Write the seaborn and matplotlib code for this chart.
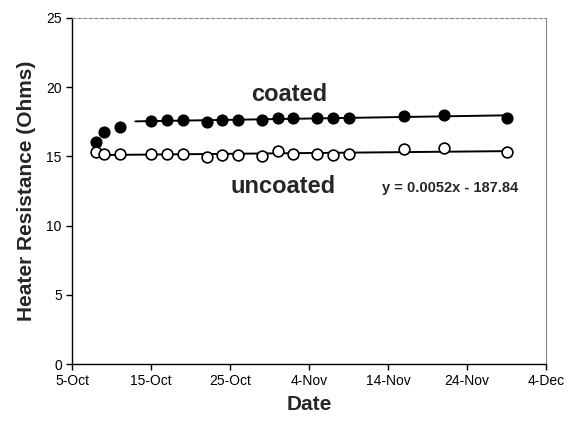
import matplotlib
matplotlib.use("Agg")
import matplotlib.pyplot as plt
import matplotlib.dates as mdates
import numpy as np
import pandas as pd
import seaborn as sns

# ---- data ----
dates = ["2006-10-08", "2006-10-09", "2006-10-11", "2006-10-15", "2006-10-17",
         "2006-10-19", "2006-10-22", "2006-10-24", "2006-10-26", "2006-10-29",
         "2006-10-31", "2006-11-02", "2006-11-05", "2006-11-07", "2006-11-09",
         "2006-11-16", "2006-11-21", "2006-11-29"]
coated = [16.0, 16.75, 17.15, 17.55, 17.6, 17.6, 17.45, 17.6, 17.6, 17.6,
          17.8, 17.8, 17.8, 17.75, 17.75, 17.9, 18.0, 17.8]
uncoated = [15.3, 15.15, 15.15, 15.15, 15.15, 15.15, 14.95, 15.1, 15.1, 15.05,
            15.35, 15.2, 15.2, 15.1, 15.15, 15.5, 15.6, 15.3]
coated_fit_start = 3          # trendline of coated series from 4th point on
y_ticks = [0, 5, 10, 15, 20, 25]
x_tick_dates = ["2006-10-05", "2006-10-15", "2006-10-25", "2006-11-04",
                "2006-11-14", "2006-11-24", "2006-12-04"]
equation = "y = 0.0052x - 187.84"

df = pd.DataFrame({"date": pd.to_datetime(dates), "coated": coated, "uncoated": uncoated})
df["num"] = mdates.date2num(df["date"])

sns.set_style("white")
plt.rcParams["font.family"] = ["Liberation Sans", "DejaVu Sans"]

fig = plt.figure(figsize=(5.69, 4.25), dpi=100)
ax = fig.add_axes([0.127, 0.1435, 0.833, 0.8145])

# trendlines
sub = df.iloc[coated_fit_start:]
pc = np.polyfit(sub["num"], sub["coated"], 1)
xc = np.array([sub["num"].min() - 2, df["num"].max()])
ax.plot(xc, np.polyval(pc, xc), color="black", lw=1.4, zorder=2)
pu = np.polyfit(df["num"], df["uncoated"], 1)
xu = np.array([df["num"].min(), df["num"].max()])
ax.plot(xu, np.polyval(pu, xu), color="black", lw=1.4, zorder=2)

sns.scatterplot(data=df, x="num", y="coated", ax=ax, color="black", s=60,
                edgecolor="black", linewidth=1, zorder=3, legend=False)
sns.scatterplot(data=df, x="num", y="uncoated", ax=ax, facecolor="white", s=60,
                edgecolor="black", linewidth=1.2, zorder=3, legend=False)

xt = mdates.date2num(pd.to_datetime(x_tick_dates))
ax.set_xlim(xt[0], xt[-1])
ax.set_ylim(0, 25)
ax.set_xticks(xt)
ax.xaxis.set_major_formatter(mdates.DateFormatter("%-d-%b"))
ax.set_yticks(y_ticks)
ax.tick_params(axis="both", direction="out", length=4, width=1, labelsize=10,
               colors="black", bottom=True, left=True)

ax.set_xlabel("Date", fontsize=15, fontweight="bold", labelpad=5)
ax.set_ylabel("Heater Resistance (Ohms)", fontsize=15, fontweight="bold", labelpad=7)

for s in ["left", "bottom"]:
    ax.spines[s].set_color("black")
    ax.spines[s].set_linewidth(1.0)
ax.spines["top"].set_color("#888888")
ax.spines["top"].set_linestyle((0, (3, 2)))
ax.spines["top"].set_linewidth(0.8)
ax.spines["right"].set_color("#888888")
ax.spines["right"].set_linewidth(0.8)

x0 = xt[0]
ax.text(x0 + 27.5, 19.5, "coated", fontsize=17, fontweight="bold", ha="center", va="center")
ax.text(x0 + 26.7, 12.8, "uncoated", fontsize=17, fontweight="bold", ha="center", va="center")
ax.text(x0 + 47.8, 12.7, equation, fontsize=10.5, fontweight="bold", ha="center", va="center")

fig.savefig("out.png", dpi=100)
